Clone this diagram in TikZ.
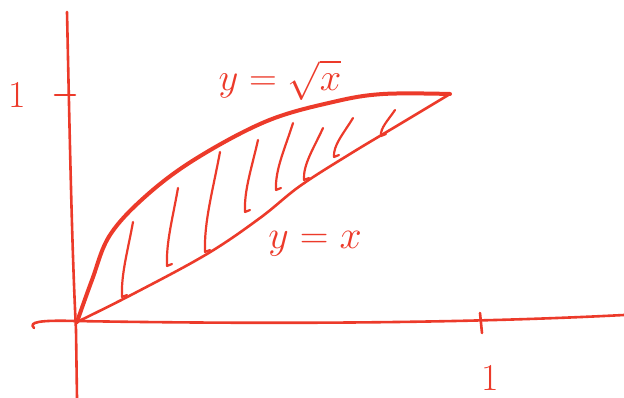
\documentclass[tikz,border=0pt]{standalone}
\usepackage{graphicx}
\usepackage{xcolor}
\definecolor{pen}{RGB}{236,58,42}
\begin{document}
\begin{tikzpicture}[x=1pt,y=-1pt,
  ink/.style={draw=pen,line width=2.6pt,line cap=round,line join=round},
  thick ink/.style={draw=pen,line width=4pt,line cap=round,line join=round},
  lab/.style={text=pen,font=\fontsize{24.88}{30}\selectfont,inner sep=0pt},
  num/.style={text=pen,font=\fontsize{38}{44}\selectfont,inner sep=0pt}]
\useasboundingbox (0,0) rectangle (624,398);
% axes
\draw[ink] (67,12) .. controls (70,150) and (72,250) .. (76,330) -- (77,398);
\draw[ink] (34,328) .. controls (28,322) and (40,320) .. (75,321) .. controls (250,324) and (450,324) .. (624,315);
\coordinate (O) at (77,322);
\coordinate (P) at (450,94);
% ticks
\draw[ink] (55,95) -- (75,95);
\draw[ink] (480,313) -- (482,333);
\node[num] (one y) at (17,95) {1};
\node[num] (one x) at (490,378) {1};
% curves
\draw[thick ink] plot[smooth,tension=0.6] coordinates {(O) (92,280) (110,235) (147,195) (197,158) (267,121) (333,102) (383,94) (P)};
\draw[ink] plot[smooth,tension=0.6] coordinates {(O) (133,294) (207,254) (260,218) (300,186) (350,154) (400,124) (P)};
% hatching
\foreach \a/\b/\c/\d in {133/222/122/297, 178/188/167/266, 220/152/205/252, 258/140/245/212, 293/123/276/190, 323/128/304/180, 353/118/334/157, 395/110/381/136}{
  \draw[ink,line width=2.2pt] (\a,\b) .. controls ({\a-(\a-\c)*0.5},{\b+(\d-\b)*0.4}) and ({\c-1},{\d-(\d-\b)*0.3}) .. (\c,\d) -- ++(5,-2);
}
% labels
\node[lab] (lsqrt) at (280,80) {\scalebox{1.55}{$y=\sqrt{x}$}};
\node[lab] (lline) at (315,244) {\scalebox{1.6}{$y=x$}};
\end{tikzpicture}
\end{document}
